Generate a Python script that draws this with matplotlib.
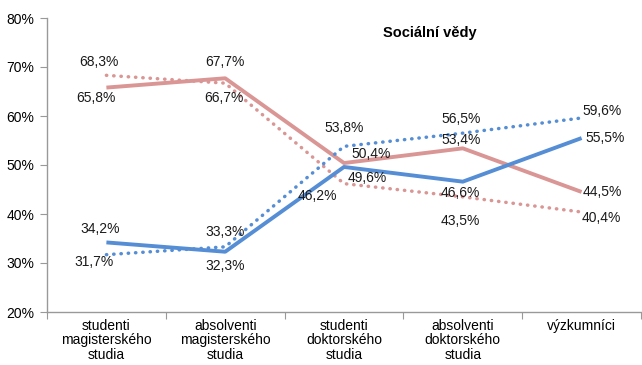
import numpy as np
import matplotlib
matplotlib.use("Agg")
import matplotlib.pyplot as plt
from matplotlib.ticker import FuncFormatter

plt.rcParams['font.family'] = ['Liberation Sans', 'DejaVu Sans']

categories = ["studenti\nmagisterského\nstudia", "absolventi\nmagisterského\nstudia",
              "studenti\ndoktorského\nstudia", "absolventi\ndoktorského\nstudia",
              "výzkumníci"]
red_solid = [65.8, 67.7, 50.4, 53.4, 44.5]
red_dotted = [68.3, 66.7, 46.2, 43.5, 40.4]
blue_solid = [34.2, 32.3, 49.6, 46.6, 55.5]
blue_dotted = [31.7, 33.3, 53.8, 56.5, 59.6]

# label offsets in pixels (dx, dy)
off_red_solid = [(-10, -10), (0, 16), (27, 9), (-2, 8), (21, 0)]
off_red_dotted = [(-7, 13), (-1, -15), (-27, -12), (-2, -24), (20, -6)]
off_blue_solid = [(-6, 13), (0, -14), (23, -11), (-2, -11), (24, 0)]
off_blue_dotted = [(-12, -7), (0, 15), (0, 18), (-2, 14), (20, 7)]

red = "#D99694"
blue = "#558ED5"

fig = plt.figure(figsize=(6.42, 3.65), dpi=100)
ax = fig.add_axes([47/642, 1-312/365, 594/642, 294/365])

x = np.arange(len(categories))
dots = (0, (0.1, 2.0))
ax.plot(x, red_solid, color=red, lw=2.8, solid_capstyle='butt')
ax.plot(x, red_dotted, color=red, lw=2.5, linestyle=dots, dash_capstyle='round')
ax.plot(x, blue_solid, color=blue, lw=2.8, solid_capstyle='butt')
ax.plot(x, blue_dotted, color=blue, lw=2.5, linestyle=dots, dash_capstyle='round')

for vals, offs in [(red_solid, off_red_solid), (red_dotted, off_red_dotted),
                   (blue_solid, off_blue_solid), (blue_dotted, off_blue_dotted)]:
    for xi, v, (dx, dy) in zip(x, vals, offs):
        ax.annotate(f"{v:.1f}%".replace(".", ","), (xi, v), xytext=(dx, dy),
                    textcoords='offset pixels', ha='center', va='center',
                    fontsize=10, color='#1a1a1a')

ax.set_xlim(-0.5, len(categories) - 0.5)
ax.set_ylim(20, 80)
ax.set_yticks(np.arange(20, 81, 10))
ax.yaxis.set_major_formatter(FuncFormatter(lambda v, p: f"{v:.0f}%"))

ax.set_xticks(np.arange(-0.5, len(categories), 1))
ax.set_xticklabels([])
ax.set_xticks(x, minor=True)
ax.set_xticklabels(categories, minor=True, fontsize=10, linespacing=1.05)
ax.tick_params(axis='x', which='minor', length=0, pad=5)
ax.tick_params(axis='x', which='major', length=5, color='#999999', direction='out')
ax.tick_params(axis='y', length=5, color='#999999', direction='out', labelsize=10, pad=4)

for s in ['top', 'right']:
    ax.spines[s].set_visible(False)
for s in ['left', 'bottom']:
    ax.spines[s].set_color('#999999')
    ax.spines[s].set_linewidth(1.0)

fig.text(430/642, 1-33/365, "Sociální vědy", ha='center', va='center',
         fontsize=10.5, fontweight='bold')

fig.savefig("out.png", dpi=100)
